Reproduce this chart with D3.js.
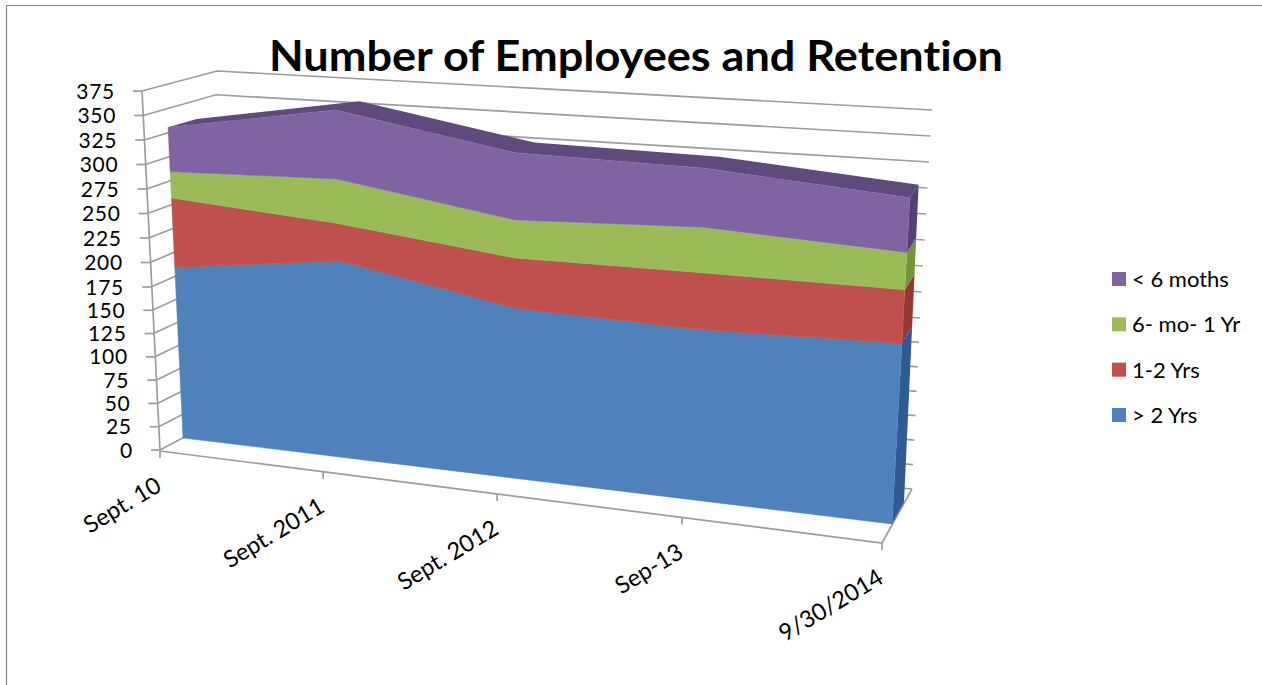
<!DOCTYPE html>
<html>
<head>
<meta charset="utf-8">
<title>Number of Employees and Retention</title>
<script src="https://cdn.jsdelivr.net/npm/d3@7/dist/d3.min.js"></script>
<style>
  html, body { margin: 0; padding: 0; background: #fff; }
  svg { display: block; }
  text { font-family: Lato, "Liberation Sans", sans-serif; fill: #000; font-variant-ligatures: none; }
</style>
</head>
<body>
<svg id="chart" width="1262" height="685"></svg>
<script>
// Headcount by tenure band at each September snapshot
const categories = ["Sept. 10", "Sept. 2011", "Sept. 2012", "Sep-13", "9/30/2014"];
const over2Yrs = [181, 203, 170, 165, 169];
const oneToTwoYrs = [74, 38, 50, 55, 50];
const sixMoToOneYr = [28, 46, 38, 44, 35];
const under6Months = [47, 71, 67, 57, 51];
const seriesNames = ["> 2 Yrs", "1-2 Yrs", "6- mo- 1 Yr", "< 6 moths"];
const seriesColors = ["#4f81bd", "#c0504d", "#9bbb59", "#8064a2"];
const sideColors = ["#2f5a92", "#953735", "#76923c", "#554073"];
const valueTicks = d3.range(0, 376, 25);
const chartTitle = "Number of Employees and Retention";

const svg = d3.select("#chart");
const W = 1262, H = 685;
const gridColor = "#9c9c9c";

// Category spacing widens to the right: the box is viewed in perspective
const depthAlong = d3.scaleLinear().domain([0, 1, 2, 3, 4]).range([0, 0.226, 0.467, 0.723, 1]);

// A vertical edge of the 3D box: value -> [x, y]
const edge = (domain, range) => d3.scaleLinear().domain(domain).range(range);

// Vertical plane spanned by a left and right edge: (category index, value) -> [x, y]
function plane(leftEdge, rightEdge) {
  return (i, v) => {
    const t = depthAlong(i);
    const a = leftEdge(v), b = rightEdge(v);
    return [a[0] + (b[0] - a[0]) * t, a[1] + (b[1] - a[1]) * t];
  };
}

const frontFace = plane(
  edge([0, 375], [[183, 438], [166, 85]]),
  edge([0, 375], [[892, 524], [914, 123]])
);
const backFace = plane(
  edge([0, 375], [[210, 426], [195, 77]]),
  edge([0, 375], [[904, 502], [922, 112]])
);

// Walls and floor of the box
const wallFront = edge([0, 175, 375], [[160, 450], [151, 287], [142, 91]]);
const wallBack = edge([0, 375], [[203, 427], [217, 71]]);
const wallRight = edge([0, 175, 375], [[912, 489], [920, 318], [932, 110]]);
const floorFront = i => {
  const t = depthAlong(i);
  return [160 + (882 - 160) * t, 451 + (543 - 451) * t];
};

// Chart frame (only the top and left rules fall inside the page)
svg.append("path")
  .attr("d", `M6.5,${H}V5.5H${W}`)
  .attr("fill", "none")
  .attr("stroke", "#868686")
  .attr("stroke-width", 1.2);

const line = d3.line();
const grid = svg.append("g").attr("fill", "none").attr("stroke", gridColor).attr("stroke-width", 1.7);

// Gridlines fold from the side wall onto the back wall
grid.selectAll("path.gridline")
  .data(valueTicks)
  .join("path")
  .attr("class", "gridline")
  .attr("d", v => line([wallFront(v), wallBack(v), wallRight(v)]));

// Value axis
grid.append("path").attr("d", line([wallFront(0), wallFront(375)]));
grid.selectAll("path.vtick")
  .data(valueTicks)
  .join("path")
  .attr("class", "vtick")
  .attr("d", v => {
    const p = wallFront(v);
    return line([[p[0] - 9, p[1]], p]);
  });

// Floor edges and category ticks
grid.append("path").attr("d", line([floorFront(0), floorFront(4), wallRight(0)]));
grid.selectAll("path.ctick")
  .data(categories)
  .join("path")
  .attr("class", "ctick")
  .attr("d", (c, i) => {
    const p = floorFront(i);
    return line([p, [p[0], p[1] + 7]]);
  });

// Stacked layers
const rows = categories.map((c, i) => ({
  i,
  "> 2 Yrs": over2Yrs[i],
  "1-2 Yrs": oneToTwoYrs[i],
  "6- mo- 1 Yr": sixMoToOneYr[i],
  "< 6 moths": under6Months[i]
}));
const layers = d3.stack().keys(seriesNames)(rows);
const topLayer = layers[layers.length - 1];

// Top surface of the stack, running back in depth
const topStrip = d3.area()
  .x0(d => frontFace(d.data.i, d[1])[0])
  .y0(d => frontFace(d.data.i, d[1])[1])
  .x1(d => backFace(d.data.i, d[1])[0])
  .y1(d => backFace(d.data.i, d[1])[1]);
svg.append("path")
  .datum(topLayer)
  .attr("d", topStrip)
  .attr("fill", "#5f4a7d");

// End caps on the right-hand side
const last = categories.length - 1;
svg.append("g").selectAll("path")
  .data(layers)
  .join("path")
  .attr("fill", (d, k) => sideColors[k])
  .attr("d", d => {
    const [v0, v1] = d[last];
    return line([frontFace(last, v0), frontFace(last, v1), backFace(last, v1), backFace(last, v0)]) + "Z";
  });

// Front faces
const faceArea = d3.area()
  .x0(d => frontFace(d.data.i, d[0])[0])
  .y0(d => frontFace(d.data.i, d[0])[1])
  .x1(d => frontFace(d.data.i, d[1])[0])
  .y1(d => frontFace(d.data.i, d[1])[1]);
svg.append("g").selectAll("path")
  .data(layers)
  .join("path")
  .attr("fill", (d, k) => seriesColors[k])
  .attr("stroke", (d, k) => seriesColors[k])
  .attr("stroke-width", 0.5)
  .attr("d", faceArea);

// Value labels
svg.append("g").selectAll("text")
  .data(valueTicks)
  .join("text")
  .attr("x", v => wallFront(v)[0] - 27)
  .attr("y", v => wallFront(v)[1])
  .attr("dy", "0.36em")
  .attr("text-anchor", "end")
  .attr("font-size", 21)
  .attr("letter-spacing", 0.7)
  .text(v => v);

// Category labels, slanted and ending under their ticks
svg.append("g").selectAll("text")
  .data(categories)
  .join("text")
  .attr("text-anchor", "end")
  .attr("font-size", 23.5)
  .attr("transform", (c, i) => {
    const p = floorFront(i);
    return `translate(${p[0] + 3},${p[1] + 39}) rotate(-31)`;
  })
  .text(c => c);

// Title
svg.append("text")
  .attr("x", 636)
  .attr("y", 71)
  .attr("text-anchor", "middle")
  .attr("font-size", 42)
  .attr("font-weight", 700)
  .attr("textLength", 734)
  .attr("lengthAdjust", "spacingAndGlyphs")
  .text(chartTitle);

// Legend, listed from the top of the stack down
const legendY = d3.scalePoint().domain(seriesNames.slice().reverse()).range([279, 415]);
const legend = svg.append("g").selectAll("g")
  .data(seriesNames)
  .join("g")
  .attr("transform", d => `translate(1112,${legendY(d)})`);
legend.append("rect")
  .attr("x", 0).attr("y", -7).attr("width", 14).attr("height", 14)
  .attr("fill", (d, k) => seriesColors[k]);
legend.append("text")
  .attr("x", 20)
  .attr("dy", "0.36em")
  .attr("font-size", 22)
  .text(d => d);
</script>
</body>
</html>
